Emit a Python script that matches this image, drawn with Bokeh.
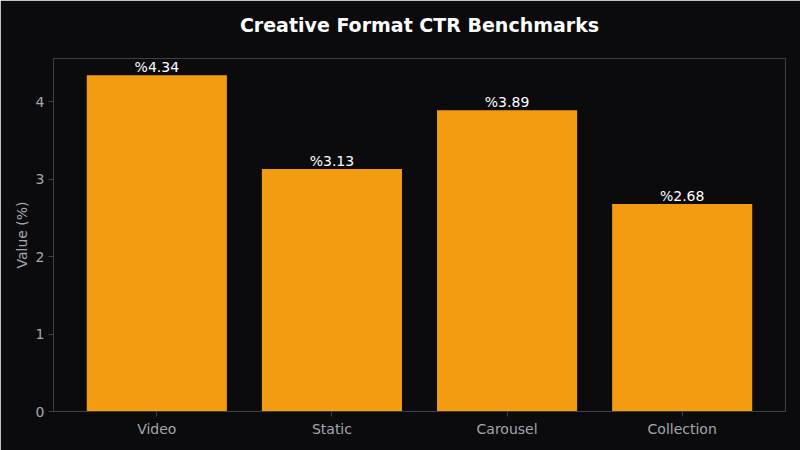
from bokeh.plotting import figure
from bokeh.models import Range1d, FixedTicker, ColumnDataSource, LabelSet
from bokeh.core.properties import value
from bokeh.embed import file_html
from bokeh.resources import INLINE

categories = ["Video", "Static", "Carousel", "Collection"]
values = [4.34, 3.13, 3.89, 2.68]
labels = ["%4.34", "%3.13", "%3.89", "%2.68"]
title_text = "Creative Format CTR Benchmarks"

BG = "#0b0b0e"
BAR = "#f39c12"
FRAME = "#3c404b"
TICK_TEXT = "#a3a7b0"
FONT = "DejaVu Sans"

xs = list(range(len(categories)))
src = ColumnDataSource(dict(x=xs, top=values, label=labels))

p = figure(width=800, height=450, output_backend="svg", toolbar_location=None,
           x_range=Range1d(-0.59, 3.59), y_range=Range1d(0, max(values) * 1.05),
           min_border_left=53, min_border_right=15, min_border_top=58, min_border_bottom=39,
           background_fill_color=BG, border_fill_color=BG)

# second (blank) line lifts the title towards the top of the canvas
p.title.text = title_text + "\n "
p.title.align = "center"
p.title.text_color = "#ffffff"
p.title.text_font = FONT
p.title.text_font_size = "19px"
p.title.text_font_style = "bold"
p.title.standoff = 2

p.vbar(x="x", top="top", width=0.8, source=src, color=BAR, line_color=None)

lbl = LabelSet(x="x", y="top", text="label", source=src, text_align="center",
               text_baseline="bottom", y_offset=0, text_color="#ffffff",
               text_font_size=value("14px"), text_font=value(FONT))
p.add_layout(lbl)

p.xgrid.visible = False
p.ygrid.visible = False
p.outline_line_color = FRAME
p.outline_line_width = 1

p.xaxis.ticker = FixedTicker(ticks=xs)
p.xaxis.major_label_overrides = {i: c for i, c in enumerate(categories)}
p.yaxis.ticker = FixedTicker(ticks=[0, 1, 2, 3, 4])
for ax in (p.xaxis[0], p.yaxis[0]):
    ax.axis_line_color = FRAME
    ax.major_tick_line_color = FRAME
    ax.major_tick_in = 0
    ax.major_tick_out = 5
    ax.minor_tick_line_color = None
    ax.major_label_text_color = TICK_TEXT
    ax.major_label_text_font = FONT
    ax.major_label_text_font_size = "14px"
    ax.major_label_standoff = 4
p.yaxis.axis_label = "Value (%)"
p.yaxis.axis_label_text_color = TICK_TEXT
p.yaxis.axis_label_text_font = FONT
p.yaxis.axis_label_text_font_size = "14px"
p.yaxis.axis_label_text_font_style = "normal"
p.yaxis.axis_label_standoff = 3

open("out.html", "w").write(file_html(p, INLINE))
